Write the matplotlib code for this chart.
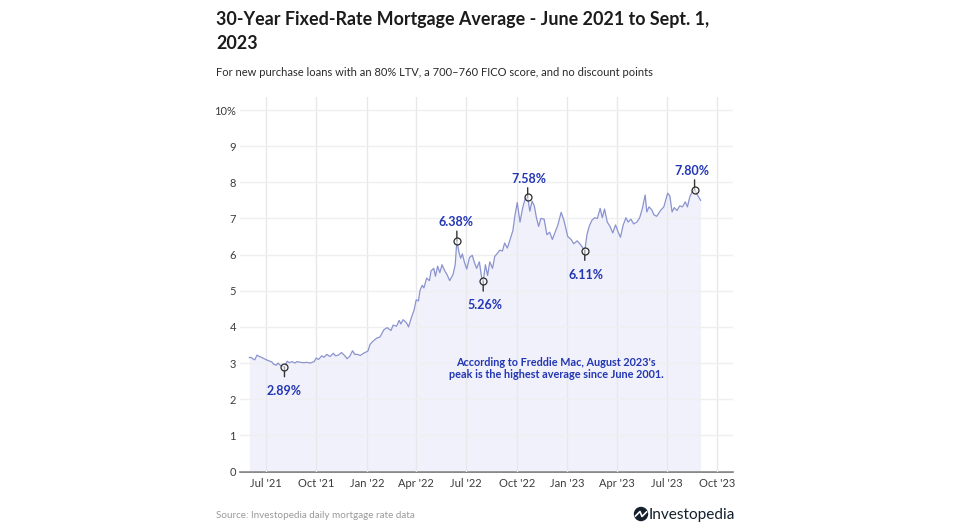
#!/usr/bin/env python3
"""30-year fixed mortgage average, June 2021 to Sept 2023."""

import matplotlib
matplotlib.use('Agg')
import matplotlib.pyplot as plt
import matplotlib.dates as mdates
import pandas as pd
from matplotlib.patches import Circle

plt.rcParams['font.family'] = ['Lato', 'DejaVu Sans']

rate_dates = [
    '2021-06-01', '2021-06-04', '2021-06-08', '2021-06-11', '2021-06-15', '2021-06-18', '2021-06-23', '2021-06-28',
    '2021-07-02', '2021-07-07', '2021-07-12', '2021-07-15', '2021-07-20', '2021-07-23', '2021-07-28', '2021-08-04',
    '2021-08-09', '2021-08-13', '2021-08-18', '2021-08-23', '2021-08-27', '2021-09-02', '2021-09-08', '2021-09-14',
    '2021-09-20', '2021-09-27', '2021-10-01', '2021-10-05', '2021-10-11', '2021-10-15', '2021-10-20', '2021-10-26',
    '2021-11-01', '2021-11-05', '2021-11-10', '2021-11-16', '2021-11-22', '2021-11-26', '2021-12-01', '2021-12-06',
    '2021-12-10', '2021-12-15', '2021-12-20', '2021-12-27', '2022-01-03', '2022-01-07', '2022-01-12', '2022-01-19',
    '2022-01-25', '2022-02-01', '2022-02-07', '2022-02-14', '2022-02-18', '2022-02-24', '2022-03-01', '2022-03-04',
    '2022-03-08', '2022-03-14', '2022-03-18', '2022-03-23', '2022-03-28', '2022-04-01', '2022-04-05', '2022-04-08',
    '2022-04-12', '2022-04-15', '2022-04-20', '2022-04-25', '2022-04-28', '2022-05-03', '2022-05-06', '2022-05-10',
    '2022-05-14', '2022-05-18', '2022-05-23', '2022-05-27', '2022-06-01', '2022-06-07', '2022-06-11', '2022-06-14',
    '2022-06-18', '2022-06-21', '2022-06-24', '2022-06-28', '2022-07-02', '2022-07-07', '2022-07-12', '2022-07-16',
    '2022-07-20', '2022-07-25', '2022-07-29', '2022-08-01', '2022-08-05', '2022-08-09', '2022-08-13', '2022-08-18',
    '2022-08-22', '2022-08-26', '2022-08-31', '2022-09-05', '2022-09-09', '2022-09-14', '2022-09-19', '2022-09-24',
    '2022-09-28', '2022-10-02', '2022-10-07', '2022-10-12', '2022-10-16', '2022-10-21', '2022-10-25', '2022-10-29',
    '2022-11-02', '2022-11-06', '2022-11-10', '2022-11-14', '2022-11-20', '2022-11-25', '2022-11-30', '2022-12-05',
    '2022-12-10', '2022-12-15', '2022-12-21', '2022-12-26', '2023-01-02', '2023-01-08', '2023-01-13', '2023-01-19',
    '2023-01-25', '2023-02-02', '2023-02-06', '2023-02-10', '2023-02-15', '2023-02-20', '2023-02-25', '2023-03-02',
    '2023-03-06', '2023-03-10', '2023-03-15', '2023-03-20', '2023-03-25', '2023-03-30', '2023-04-04', '2023-04-08',
    '2023-04-13', '2023-04-18', '2023-04-22', '2023-04-27', '2023-05-02', '2023-05-08', '2023-05-13', '2023-05-18',
    '2023-05-23', '2023-05-26', '2023-05-30', '2023-06-04', '2023-06-08', '2023-06-13', '2023-06-20', '2023-06-26',
    '2023-07-03', '2023-07-07', '2023-07-11', '2023-07-15', '2023-07-20', '2023-07-25', '2023-07-30', '2023-08-04',
    '2023-08-08', '2023-08-12', '2023-08-16', '2023-08-21', '2023-08-25', '2023-09-01',
]
rate_values = [
    3.15, 3.16, 3.11, 3.09, 3.22, 3.19, 3.16, 3.12,
    3.09, 3.06, 3.03, 2.97, 2.94, 3.00, 2.93, 2.89,
    3.05, 3.01, 3.04, 3.00, 3.04, 3.02, 3.01, 3.02,
    3.00, 3.04, 3.14, 3.10, 3.20, 3.16, 3.24, 3.18,
    3.27, 3.20, 3.22, 3.29, 3.20, 3.12, 3.19, 3.34,
    3.24, 3.24, 3.21, 3.28, 3.33, 3.52, 3.60, 3.69,
    3.72, 3.92, 3.98, 3.90, 4.05, 4.02, 4.18, 4.08,
    4.20, 4.12, 4.00, 4.25, 4.46, 4.75, 4.72, 5.02,
    5.15, 5.08, 5.35, 5.28, 5.55, 5.62, 5.40, 5.68,
    5.50, 5.72, 5.55, 5.45, 5.28, 5.45, 5.72, 6.38,
    6.05, 5.90, 6.02, 5.78, 5.60, 5.92, 5.98, 5.78,
    5.62, 5.80, 5.38, 5.26, 5.72, 5.42, 5.80, 5.62,
    5.95, 6.02, 6.12, 6.10, 6.32, 6.18, 6.42, 6.66,
    7.10, 7.44, 6.90, 7.30, 7.52, 7.58, 7.20, 7.48,
    7.35, 7.02, 6.78, 7.00, 6.98, 6.55, 6.62, 6.42,
    6.62, 6.82, 7.17, 6.95, 6.50, 6.42, 6.30, 6.38,
    6.28, 6.11, 6.55, 6.78, 6.95, 7.02, 7.00, 7.28,
    7.02, 7.26, 6.90, 6.78, 6.60, 6.82, 6.62, 6.48,
    6.82, 7.02, 6.90, 6.98, 6.85, 6.90, 7.02, 7.28,
    7.65, 7.18, 7.32, 7.24, 7.10, 7.06, 7.22, 7.32,
    7.70, 7.62, 7.18, 7.30, 7.22, 7.35, 7.32, 7.46,
    7.32, 7.58, 7.72, 7.80, 7.68, 7.50,
]

callout_dates = ['2021-08-04', '2022-06-14', '2022-08-01', '2022-10-21', '2023-02-02', '2023-08-21']
callout_values = [2.89, 6.38, 5.26, 7.58, 6.11, 7.80]
callout_labels = ['2.89%', '6.38%', '5.26%', '7.58%', '6.11%', '7.80%']
callout_sides = ['below', 'above', 'below', 'above', 'below', 'above']
callout_nudge_px = [0, -1, 2, 1, 1, -3]

y_ticks = [0, 1, 2, 3, 4, 5, 6, 7, 8, 9, 10]
y_tick_labels = ['0', '1', '2', '3', '4', '5', '6', '7', '8', '9', '10%']
x_tick_dates = ['2021-07-01', '2021-10-01', '2022-01-01', '2022-04-01', '2022-07-01',
                '2022-10-01', '2023-01-01', '2023-04-01', '2023-07-01', '2023-10-01']
x_tick_labels = ["Jul '21", "Oct '21", "Jan '22", "Apr '22", "Jul '22",
                 "Oct '22", "Jan '23", "Apr '23", "Jul '23", "Oct '23"]

W, H = 975, 532
LINE = '#8b93ce'
FILL = '#f0f1fa'
BLUE = '#2336b4'
INK = '#1b1b1b'

fig = plt.figure(figsize=(W / 100, H / 100), dpi=100)
fig.patch.set_facecolor('white')

# axes box in reference pixels
left, right, top, bottom = 240, 733, 97, 471.5
ax = fig.add_axes([left / W, 1 - bottom / H, (right - left) / W, (bottom - top) / H])

dates = pd.to_datetime(rate_dates)
ax.fill_between(dates, rate_values, 0, color=FILL, linewidth=0, zorder=1)
ax.plot(dates, rate_values, color=LINE, linewidth=0.9, zorder=3)

ax.set_xlim(pd.Timestamp('2021-05-15'), pd.Timestamp('2023-10-30'))
ax.set_ylim(0, 10.36)

ax.set_yticks(y_ticks)
ax.set_yticklabels(y_tick_labels)
ax.set_xticks(pd.to_datetime(x_tick_dates))
ax.set_xticklabels(x_tick_labels)
ax.tick_params(axis='both', length=0, labelsize=8, labelcolor='#3c3c3c')
ax.tick_params(axis='x', pad=5)
ax.tick_params(axis='y', pad=3)

ax.grid(axis='y', color='#efeff1', linewidth=1.0, zorder=2)
ax.grid(axis='x', color='#e7e7ec', linewidth=1.0, zorder=2)
ax.set_axisbelow(False)
for side in ['top', 'right', 'left']:
    ax.spines[side].set_visible(False)
ax.spines['bottom'].set_color('#666666')
ax.spines['bottom'].set_linewidth(1.1)

# callouts: stem, open marker, label
for d, v, lab, side, nudge in zip(callout_dates, callout_values, callout_labels,
                                  callout_sides, callout_nudge_px):
    xy = (mdates.date2num(pd.Timestamp(d)), v)
    above = side == 'above'
    sign = 1 if above else -1
    ax.annotate('', xy=xy, xycoords='data', xytext=(0, sign * 7), textcoords='offset points',
                arrowprops=dict(arrowstyle='-', color='#333333', lw=1.0, shrinkA=0, shrinkB=0), zorder=4)
    ax.plot([xy[0]], [xy[1]], 'o', ms=5.0, mfc=(1, 1, 1, 0.55), mec='#2b2b2b', mew=0.9, zorder=5)
    ax.annotate(lab, xy=xy, xycoords='data', xytext=(nudge * 0.72, 9 if above else -13),
                textcoords='offset points', ha='center', va='bottom' if above else 'top',
                fontsize=9, fontweight='bold', color=BLUE, zorder=6)


def px_text(x, y, s, **kw):
    fig.text(x / W, 1 - y / H, s, **kw)


px_text(216, 19, '30-Year Fixed-Rate Mortgage Average - June 2021 to Sept. 1,',
        fontsize=12.9, fontweight='bold', color=INK, va='center')
px_text(216, 44, '2023', fontsize=12.9, fontweight='bold', color=INK, va='center')
px_text(216, 72, 'For new purchase loans with an 80% LTV, a 700\u2013760 FICO score, and no discount points',
        fontsize=8, color='#2a2a2a', va='center')
px_text(556, 362, "According to Freddie Mac, August 2023's", fontsize=7.8, fontweight='bold',
        color=BLUE, ha='center', va='center')
px_text(556, 375, 'peak is the highest average since June 2001.', fontsize=7.8, fontweight='bold',
        color=BLUE, ha='center', va='center')
px_text(216, 516, 'Source: Investopedia daily mortgage rate data', fontsize=7.1, color='#9a9a9a', va='center')

# logo, simplified mark plus word
logo = fig.add_axes([0, 0, 1, 1], facecolor='none')
logo.set_xlim(0, W)
logo.set_ylim(H, 0)
logo.axis('off')
logo.add_patch(Circle((641, 514), 6.5, color='#14202e'))
logo.plot([635.5, 640, 642, 646.5], [516, 511.5, 516.5, 512], color='white', lw=1.2)
px_text(649, 514.5, 'Investopedia', fontsize=11.1, color='#14202e', va='center')

fig.savefig('out.png', dpi=100)
